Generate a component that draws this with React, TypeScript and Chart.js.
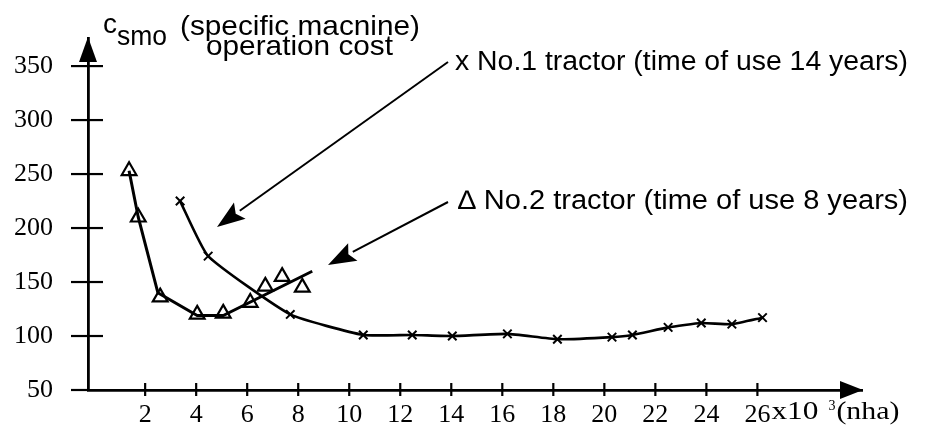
import { useEffect, useRef } from "react";
import { Chart, registerables } from "chart.js";

Chart.register(...registerables);

// No.1 tractor (time of use 14 years) – "x" markers
const tractor1X = [3.37, 4.47, 7.69, 10.55, 12.47, 14.04, 16.2, 18.16, 20.3, 21.1, 22.5, 23.8, 25.0, 26.2];
const tractor1Y = [225, 174, 120, 101, 101, 100, 102, 97, 99, 101, 108, 112, 111, 117];

// No.2 tractor (time of use 8 years) – triangle markers
const tractor2X = [1.37, 1.73, 2.59, 4.04, 5.06, 6.12, 6.71, 7.37, 8.16];
const tractor2Y = [253, 210, 136, 120, 121, 131, 146, 155, 145];

// No.2 fitted curve
const trend2X = [1.37, 1.73, 2.5, 4.04, 5.06, 8.55];
const trend2Y = [253, 210, 140, 119, 119, 160];

const xTicks = [2, 4, 6, 8, 10, 12, 14, 16, 18, 20, 22, 24, 26];
const yTicks = [50, 100, 150, 200, 250, 300, 350];

const yTitleMain = "c";
const yTitleSub = "smo";
const yTitleLine1 = "(specific macnine)";
const yTitleLine2 = "operation cost";
const legend1 = "x No.1 tractor (time of use 14 years)";
const legend2 = "\u2206 No.2 tractor (time of use 8 years)";
const xUnitA = "x10";
const xUnitSup = "3";
const xUnitB = "(nha)";

const SANS = "'Liberation Sans', Arial, sans-serif";
const SERIF = "'Liberation Serif', 'Times New Roman', serif";

function pts(xs: number[], ys: number[]) {
  return xs.map((x, i) => ({ x, y: ys[i] }));
}

function stretchText(ctx: CanvasRenderingContext2D, text: string, x: number, y: number, font: string, width: number) {
  ctx.save();
  ctx.font = font;
  const w = ctx.measureText(text).width;
  ctx.translate(x, y);
  ctx.scale(width / w, 1);
  ctx.textAlign = "left";
  ctx.textBaseline = "alphabetic";
  ctx.fillText(text, 0, 0);
  ctx.restore();
}

function arrow(ctx: CanvasRenderingContext2D, x1: number, y1: number, x2: number, y2: number, len: number, half: number, lw: number) {
  const ang = Math.atan2(y2 - y1, x2 - x1);
  const bx = x2 - Math.cos(ang) * len;
  const by = y2 - Math.sin(ang) * len;
  ctx.save();
  ctx.strokeStyle = "#000";
  ctx.fillStyle = "#000";
  ctx.lineWidth = lw;
  ctx.beginPath();
  ctx.moveTo(x1, y1);
  ctx.lineTo(bx, by);
  ctx.stroke();
  ctx.beginPath();
  ctx.moveTo(x2, y2);
  ctx.lineTo(bx + Math.sin(ang) * half, by - Math.cos(ang) * half);
  ctx.lineTo(bx + Math.cos(ang) * 5, by + Math.sin(ang) * 5);
  ctx.lineTo(bx - Math.sin(ang) * half, by + Math.cos(ang) * half);
  ctx.closePath();
  ctx.fill();
  ctx.restore();
}

const decorPlugin = {
  id: "decor",
  afterDraw(chart: any) {
    const ctx: CanvasRenderingContext2D = chart.ctx;
    const xs = chart.scales.x;
    const ys = chart.scales.y;
    const area = chart.chartArea;
    ctx.save();
    ctx.strokeStyle = "#000";
    ctx.fillStyle = "#000";
    ctx.lineWidth = 2.2;
    // y tick marks crossing the axis
    ys.ticks.forEach((t: any) => {
      const py = ys.getPixelForValue(t.value);
      if (t.value === yTicks[0]) return;
      ctx.beginPath();
      ctx.moveTo(area.left - 17, py);
      ctx.lineTo(area.left + 15, py);
      ctx.stroke();
    });
    ctx.beginPath();
    ctx.moveTo(area.left - 17, area.bottom);
    ctx.lineTo(area.left, area.bottom);
    ctx.stroke();
    // x tick marks crossing the axis
    xs.ticks.forEach((t: any) => {
      const px = xs.getPixelForValue(t.value);
      ctx.beginPath();
      ctx.moveTo(px, area.bottom - 7);
      ctx.lineTo(px, area.bottom + 6);
      ctx.stroke();
    });
    // axis arrowheads
    ctx.beginPath();
    ctx.moveTo(area.left, area.top - 1);
    ctx.lineTo(area.left - 9, area.top + 24);
    ctx.lineTo(area.left + 9, area.top + 24);
    ctx.closePath();
    ctx.fill();
    ctx.beginPath();
    ctx.moveTo(area.right + 1, area.bottom);
    ctx.lineTo(area.right - 22, area.bottom - 9);
    ctx.lineTo(area.right - 22, area.bottom + 9);
    ctx.closePath();
    ctx.fill();

    // unit label after the last x tick
    const lastX = xs.getPixelForValue(xTicks[xTicks.length - 1]);
    ctx.font = `26px ${SERIF}`;
    const w26 = ctx.measureText(String(xTicks[xTicks.length - 1])).width;
    const ux = lastX + w26 / 2 + 1;
    const base = area.bottom + 29;
    stretchText(ctx, xUnitA, ux, base, `26px ${SERIF}`, 47);
    stretchText(ctx, xUnitSup, ux + 57, base - 9, `15px ${SERIF}`, 7);
    stretchText(ctx, xUnitB, ux + 65, base, `26px ${SERIF}`, 63);

    // y axis title
    stretchText(ctx, yTitleMain, 103, 33, `28px ${SANS}`, 14);
    stretchText(ctx, yTitleSub, 117, 45, `27px ${SANS}`, 50);
    stretchText(ctx, yTitleLine1, 180, 35, `28px ${SANS}`, 240);
    stretchText(ctx, yTitleLine2, 206, 55, `28px ${SANS}`, 187);

    // legend labels
    stretchText(ctx, legend1, 455, 70, `27px ${SANS}`, 453);
    stretchText(ctx, legend2, 458, 209, `27px ${SANS}`, 450);

    // pointer arrows
    arrow(ctx, 448, 62, 217, 227, 28, 10, 2);
    arrow(ctx, 448, 202, 328, 265, 28, 10, 2);
    ctx.restore();
  },
};

export default function App() {
  const ref = useRef<HTMLCanvasElement | null>(null);
  useEffect(() => {
    if (!ref.current) return;
    const chart = new Chart(ref.current, {
      type: "line",
      data: {
        datasets: [
          {
            label: "No.1 tractor",
            data: pts(tractor1X, tractor1Y),
            borderColor: "#000",
            borderWidth: 2.6,
            pointStyle: "crossRot",
            pointRadius: 6,
            pointBorderWidth: 2,
            pointBorderColor: "#000",
            tension: 0.15,
            fill: false,
          },
          {
            label: "No.2 trend",
            data: pts(trend2X, trend2Y),
            borderColor: "#000",
            borderWidth: 3,
            pointRadius: 0,
            tension: 0,
            fill: false,
          },
          {
            label: "No.2 tractor",
            data: pts(tractor2X, tractor2Y),
            showLine: false,
            pointStyle: "triangle",
            pointRadius: 8.5,
            pointBorderWidth: 2.2,
            pointBorderColor: "#000",
            pointBackgroundColor: "rgba(255,255,255,0)",
          },
        ],
      },
      options: {
        responsive: false,
        animation: false,
        events: [],
        layout: { padding: { top: 38, right: 74, left: 0, bottom: 0 } },
        plugins: { legend: { display: false }, tooltip: { enabled: false }, title: { display: false } },
        scales: {
          x: {
            type: "linear",
            min: -0.24,
            max: 30.1,
            afterBuildTicks: (s: any) => {
              s.ticks = xTicks.map((v) => ({ value: v }));
            },
            afterFit: (s: any) => {
              s.height = 43;
              s.paddingLeft = 0;
              s.paddingRight = 0;
            },
            grid: { display: false, drawTicks: false },
            border: { display: true, color: "#000", width: 2.8 },
            ticks: {
              color: "#000",
              padding: 10,
              maxRotation: 0,
              autoSkip: false,
              font: { family: SERIF, size: 26 },
            },
          },
          y: {
            type: "linear",
            min: 50,
            max: 376,
            afterBuildTicks: (s: any) => {
              s.ticks = yTicks.map((v) => ({ value: v }));
            },
            afterFit: (s: any) => {
              s.width = 88;
              s.paddingTop = 0;
              s.paddingBottom = 0;
            },
            grid: { display: false, drawTicks: false },
            border: { display: true, color: "#000", width: 2.8 },
            ticks: {
              color: "#000",
              padding: 35,
              autoSkip: false,
              font: { family: SERIF, size: 26 },
            },
          },
        },
      },
      plugins: [decorPlugin],
    } as any);
    return () => chart.destroy();
  }, []);
  return (
    <div style={{ position: "absolute", left: 0, top: 0, width: 936, height: 433, background: "#fff" }}>
      <canvas ref={ref} width={936} height={433} style={{ display: "block" }} />
    </div>
  );
}
